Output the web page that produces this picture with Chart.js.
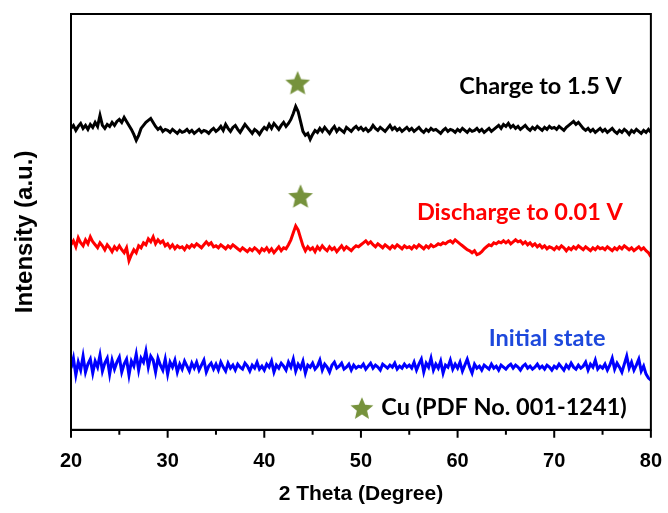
<!DOCTYPE html>
<html lang="en">
  <head>
    <meta charset="utf-8" />
    <title>XRD patterns</title>
    <style>
      * {
        margin: 0;
        padding: 0;
      }
      body {
        background: white;
      }
      .chartBox {
        width: 668px;
        height: 513px;
      }
    </style>
  </head>
  <body>
    <div class="chartBox">
      <canvas id="myChart"></canvas>
    </div>

    <script src="https://cdn.jsdelivr.net/npm/chart.js"></script>

    <script>
      // scans are sampled every 0.25 degree from 20 to 80 (2 theta)
      const thetaStart = 20;
      const thetaStep = 0.25;

      // one row = 5 degrees (intensity is offset, a.u.)
      const charged = [
        303, 306, 301, 305, 308, 303, 306, 302, 307, 304, 309, 305, 316, 306, 303, 307, 305, 309, 306, 310,
        312, 309, 314, 310, 306, 302, 297, 291, 296, 303, 306, 309, 311, 313, 309, 305, 302, 304, 300, 302,
        301, 299, 302, 300, 298, 301, 299, 300, 302, 299, 301, 298, 300, 302, 299, 301, 300, 298, 301, 303,
        300, 302, 305, 301, 307, 303, 300, 304, 306, 302, 299, 303, 307, 304, 301, 298, 302, 300, 297, 301,
        304, 302, 307, 303, 308, 305, 302, 306, 309, 305, 308, 312, 318, 325, 320, 310, 300, 296, 298, 292,
        297, 301, 299, 303, 300, 304, 301, 298, 302, 305, 300, 303, 301, 299, 304, 302, 300, 303, 305, 302,
        304, 301, 303, 300, 302, 306, 303, 301, 304, 302, 300, 303, 306, 302, 304, 301, 303, 300, 302, 304,
        301, 303, 300, 302, 304, 301, 299, 302, 300, 303, 301, 302, 300, 298, 301, 303, 300, 302, 301, 299,
        302, 300, 303, 301, 299, 302, 300, 301, 303, 300, 302, 299, 301, 303, 300, 302, 304, 306, 303, 307,
        305, 308, 304, 306, 303, 305, 302, 304, 306, 303, 301, 304, 302, 305, 303, 301, 304, 302, 305, 303,
        304, 302, 305, 303, 301, 304, 306, 308, 310, 307, 309, 306, 303, 301, 303, 300, 302, 299, 301, 303,
        300, 302, 299, 301, 303, 300, 298, 301, 299, 302, 300, 297, 301, 299, 302, 300, 298, 301, 299, 302,
        299,
      ];
      const discharged = [
        186, 190, 184, 193, 188, 185, 191, 187, 194, 189, 186, 183, 188, 185, 181, 186, 183, 179, 184, 181,
        185, 181, 178, 183, 170, 176, 181, 178, 185, 183, 188, 186, 192, 189, 194, 187, 191, 188, 190, 185,
        187, 183, 186, 182, 185, 183, 184, 181, 185, 183, 186, 184, 187, 185, 183, 186, 189, 186, 188, 184,
        185, 183, 186, 184, 182, 185, 183, 186, 184, 182, 180, 183, 181, 179, 182, 180, 183, 181, 178, 182,
        180, 183, 179, 182, 178, 181, 184, 180, 183, 182, 186, 191, 198, 205, 201, 193, 185, 180, 184, 181,
        183, 179, 184, 181, 185, 182, 180, 184, 181, 183, 179, 182, 185, 181, 184, 182, 180, 183, 185, 184,
        186, 188, 190, 187, 189, 186, 184, 187, 185, 183, 186, 184, 182, 185, 183, 186, 184, 182, 185, 183,
        184, 182, 185, 183, 186, 184, 182, 185, 183, 186, 184, 185, 187, 186, 188, 187, 189, 190, 188, 191,
        189, 187, 185, 183, 181, 180, 178, 180, 176, 177, 179, 182, 184, 186, 185, 188, 187, 189, 188, 190,
        188, 190, 187, 189, 191, 189, 190, 187, 189, 186, 188, 185, 187, 184, 186, 183, 185, 182, 184, 183,
        181, 184, 182, 185, 183, 180, 183, 181, 184, 182, 185, 183, 181, 184, 182, 180, 183, 181, 184, 182,
        183, 181, 184, 182, 180, 183, 181, 184, 182, 185, 183, 181, 183, 180, 182, 184, 181, 183, 180, 178,
        174,
      ];
      const initial = [
        62, 72, 55, 68, 60, 74, 58, 66, 71, 57, 69, 63, 75, 59, 67, 72, 56, 70, 61, 68,
        73, 58, 66, 71, 55, 69, 64, 76, 60, 72, 68, 79, 63, 74, 70, 58, 72, 65, 60, 71,
        56, 68, 63, 70, 58, 66, 61, 69, 64, 59, 67, 62, 68, 60, 65, 70, 58, 64, 67, 61,
        66, 60, 68, 63, 59, 67, 62, 65, 60, 66, 63, 61, 67, 64, 59, 65, 62, 68, 61, 64,
        60, 66, 63, 69, 58, 65, 62, 67, 64, 60, 68, 63, 71, 59, 66, 62, 69, 57, 65, 63,
        67, 61, 64, 70, 60, 66, 63, 58, 65, 68, 62, 64, 67, 61, 63, 66, 60, 65, 62, 64,
        63, 66, 61, 64, 67, 62, 65, 63, 60, 66, 64, 62, 65, 63, 67, 61, 64, 62, 66, 63,
        65, 62, 68, 60, 66, 71, 58, 67, 63, 72, 60, 66, 62, 69, 57, 65, 63, 70, 61, 66,
        62, 68, 59, 65, 71, 63, 57, 66, 62, 64, 60, 65, 63, 61, 66, 62, 64, 60, 65, 63,
        61, 64, 66, 62, 65, 63, 60, 64, 66, 62, 64, 61, 63, 66, 62, 64, 61, 65, 63, 60,
        64, 62, 66, 63, 60, 65, 62, 67, 63, 61, 65, 62, 64, 68, 60, 66, 63, 70, 61, 64,
        62, 66, 60, 65, 72, 61, 67, 63, 58, 66, 74, 62, 68, 60, 65, 71, 59, 64, 56, 52,
        50,
      ];

      // Cu reflection markers (two over the peaks, one in the key)
      const cuStars = [
        { x: 43.45, y: 349 },
        { x: 43.75, y: 235 },
        { x: 50.1, y: 22 },
      ];

      const curveLabels = ["Charge to 1.5 V", "Discharge to 0.01 V", "Initial state", "Cu (PDF No. 001-1241)"];
      const labelColors = ["#000000", "#ff0000", "#1d48dc", "#000000"];
      const labelAnchorsX = [77.0, 77.1, 75.3, 77.5];
      const labelAnchorsY = [345, 219, 92, 22];

      const toPoints = (values) =>
        values.map((v, i) => ({ x: thetaStart + i * thetaStep, y: v }));

      // filled star drawn once, used as point style
      function makeStar(r, color) {
        const c = document.createElement("canvas");
        c.width = 2 * r + 2;
        c.height = 2 * r + 2;
        const g = c.getContext("2d");
        g.translate(c.width / 2, c.height / 2 + r * 0.1);
        g.beginPath();
        for (let k = 0; k < 10; k++) {
          const rad = k % 2 ? r * 0.45 : r;
          const a = -Math.PI / 2 + (k * Math.PI) / 5;
          g.lineTo(rad * Math.cos(a), rad * Math.sin(a));
        }
        g.closePath();
        g.fillStyle = color;
        g.fill();
        return c;
      }
      const starImg = makeStar(13, "#76923c");
      const keyStarImg = makeStar(12, "#76923c");

      const lineStyle = {
        type: "line",
        borderWidth: 3,
        pointRadius: 0,
        tension: 0,
        fill: false,
      };

      const data = {
        datasets: [
          { ...lineStyle, label: "Charge to 1.5 V", data: toPoints(charged), borderColor: "#000000" },
          { ...lineStyle, label: "Discharge to 0.01 V", data: toPoints(discharged), borderColor: "#ff0000" },
          { ...lineStyle, label: "Initial state", data: toPoints(initial), borderColor: "#0000ff" },
          {
            type: "scatter",
            label: "Cu",
            data: cuStars,
            pointStyle: [starImg, starImg, keyStarImg],
            pointRadius: 12,
          },
        ],
      };

      // labels next to the curves, frame, tick marks and y title
      const decorations = {
        id: "decorations",
        afterDatasetsDraw(chart) {
          const { ctx, scales } = chart;
          ctx.save();
          ctx.font = "bold 23.5px Lato, sans-serif";
          ctx.textAlign = "right";
          ctx.textBaseline = "middle";
          for (let i = 0; i < curveLabels.length; i++) {
            ctx.fillStyle = labelColors[i];
            ctx.fillText(
              curveLabels[i],
              scales.x.getPixelForValue(labelAnchorsX[i]),
              scales.y.getPixelForValue(labelAnchorsY[i])
            );
          }
          ctx.restore();
        },
        afterDraw(chart) {
          const { ctx, chartArea } = chart;
          const { left, top, right, bottom } = chartArea;
          ctx.save();
          ctx.strokeStyle = "#000000";
          ctx.lineWidth = 2;
          ctx.strokeRect(left, top, right - left, bottom - top);
          // major ticks every 10, minor every 5 degrees
          const x = chart.scales.x;
          ctx.beginPath();
          for (let t = 20; t <= 80; t += 5) {
            const px = x.getPixelForValue(t);
            ctx.moveTo(px, bottom);
            ctx.lineTo(px, bottom + (t % 10 === 0 ? 8 : 5));
          }
          ctx.stroke();
          // y title
          ctx.translate(25, (top + bottom) / 2 + 10);
          ctx.rotate(-Math.PI / 2);
          ctx.font = "bold 24px 'Liberation Sans', Arial, sans-serif";
          ctx.fillStyle = "#000000";
          ctx.textAlign = "center";
          ctx.textBaseline = "middle";
          ctx.fillText("Intensity (a.u.)", 0, 0);
          ctx.restore();
        },
      };

      const config = {
        type: "line",
        data: data,
        options: {
          responsive: true,
          maintainAspectRatio: false,
          animation: false,
          layout: {
            padding: { left: 71, right: 16, top: 14, bottom: 6 },
          },
          plugins: {
            legend: { display: false },
            tooltip: { enabled: false },
          },
          scales: {
            x: {
              type: "linear",
              min: 20,
              max: 80,
              ticks: {
                stepSize: 10,
                color: "#000000",
                padding: 6,
                font: { family: "'Liberation Sans', Arial, sans-serif", size: 20, weight: "bold" },
              },
              grid: {
                drawOnChartArea: false,
                drawTicks: true,
                tickLength: 14,
                tickColor: "rgba(0,0,0,0)",
              },
              border: { display: true, color: "#000000", width: 2 },
              title: {
                display: true,
                text: "2 Theta (Degree)",
                color: "#000000",
                font: { family: "'Liberation Sans', Arial, sans-serif", size: 21, weight: "bold" },
                padding: { top: 2, bottom: 0 },
              },
            },
            y: {
              display: false,
              min: 0,
              max: 418,
            },
          },
        },
        plugins: [decorations],
      };

      const myChart = new Chart(document.getElementById("myChart"), config);
    </script>
  </body>
</html>
